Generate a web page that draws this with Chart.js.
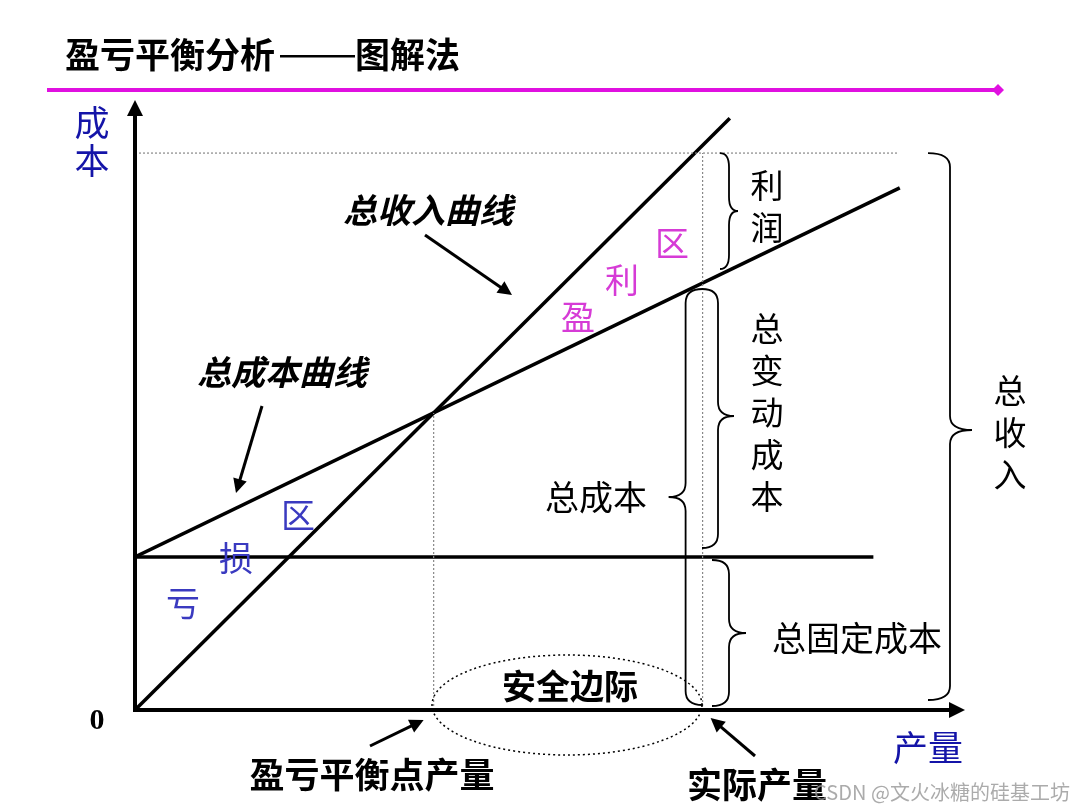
<!DOCTYPE html>
<html>
<head>
<meta charset="utf-8">
<script src="https://cdn.jsdelivr.net/npm/chart.js@4"></script>
<style>
  body { margin: 0; background: #fff; }
  #wrap { width: 1080px; height: 810px; position: relative; }
</style>
</head>
<body>
<div id="wrap"><canvas id="c"></canvas></div>
<script>
// quantity (x) and money (y), both on a 0..100 scale
const revenueX = [0, 72.1];
const revenueY = [0, 97.0];
const costX = [0, 92.7];
const costY = [25.1, 85.6];
const fixedX = [0, 89.5];
const fixedY = [25.1, 25.1];
const topGuideX = [0, 92.4];
const topGuideY = [91.3, 91.3];
const breakEvenQ = 36.2;
const breakEvenV = 48.7;
const actualQ = 68.8;
const actualRevenue = 91.3;

const zip = (xs, ys) => xs.map((x, i) => ({x: x, y: ys[i]}));

const CJK = '"Noto Sans CJK SC", "Noto Sans", sans-serif';
const BLUE = '#1414a8';
const PINK = '#d63bd6';
const LOSS = '#3a3ac0';

function arrow(ctx, x1, y1, x2, y2, w, head) {
    const a = Math.atan2(y2 - y1, x2 - x1);
    ctx.save();
    ctx.strokeStyle = '#000';
    ctx.fillStyle = '#000';
    ctx.lineWidth = w;
    ctx.beginPath();
    ctx.moveTo(x1, y1);
    ctx.lineTo(x2 - Math.cos(a) * head * 0.8, y2 - Math.sin(a) * head * 0.8);
    ctx.stroke();
    ctx.beginPath();
    ctx.moveTo(x2, y2);
    ctx.lineTo(x2 - head * Math.cos(a) + head * 0.5 * Math.sin(a),
               y2 - head * Math.sin(a) - head * 0.5 * Math.cos(a));
    ctx.lineTo(x2 - head * Math.cos(a) - head * 0.5 * Math.sin(a),
               y2 - head * Math.sin(a) + head * 0.5 * Math.cos(a));
    ctx.closePath();
    ctx.fill();
    ctx.restore();
}

// vertical curly brace; dir 1 = tip to the right, -1 = tip to the left
function brace(ctx, x, y1, y2, tipY, depth, dir) {
    const d = depth * dir;
    const h = d / 2;
    const r = Math.min(14, (y2 - y1) / 6);
    ctx.save();
    ctx.strokeStyle = '#000';
    ctx.lineWidth = 1.8;
    ctx.beginPath();
    ctx.moveTo(x, y1);
    ctx.quadraticCurveTo(x + h, y1, x + h, y1 + r);
    ctx.lineTo(x + h, tipY - r);
    ctx.quadraticCurveTo(x + h, tipY, x + d, tipY);
    ctx.quadraticCurveTo(x + h, tipY, x + h, tipY + r);
    ctx.lineTo(x + h, y2 - r);
    ctx.quadraticCurveTo(x + h, y2, x, y2);
    ctx.stroke();
    ctx.restore();
}

function text(ctx, s, x, y, font, color, align) {
    ctx.font = font;
    ctx.fillStyle = color || '#000';
    ctx.textAlign = align || 'center';
    ctx.textBaseline = 'middle';
    ctx.fillText(s, x, y);
}

function vtext(ctx, s, x, y, step, font, color) {
    [...s].forEach((ch, i) => text(ctx, ch, x, y + i * step, font, color));
}

const decor = {
    id: 'decor',
    afterDatasetsDraw(chart) {
        const ctx = chart.ctx;
        const xs = chart.scales.x, ys = chart.scales.y;
        const ox = xs.getPixelForValue(0), oy = ys.getPixelForValue(0);
        const ax = xs.getPixelForValue(actualQ);

        // header
        text(ctx, '盈亏平衡分析', 65, 55, 'bold 35px ' + CJK, '#000', 'left');
        text(ctx, '图解法', 355, 55, 'bold 35px ' + CJK, '#000', 'left');
        ctx.save();
        ctx.fillStyle = '#000';
        ctx.fillRect(280, 55, 75, 2.5);
        ctx.strokeStyle = '#e010e0';
        ctx.fillStyle = '#e010e0';
        ctx.lineWidth = 4;
        ctx.beginPath();
        ctx.moveTo(47, 90);
        ctx.lineTo(998, 90);
        ctx.stroke();
        ctx.beginPath();
        ctx.moveTo(1004, 90); ctx.lineTo(998, 84); ctx.lineTo(992, 90); ctx.lineTo(998, 96);
        ctx.closePath();
        ctx.fill();
        ctx.restore();

        // axes
        arrow(ctx, ox, oy + 2, ox, 100, 4, 16);
        arrow(ctx, ox - 2, oy, 965, oy, 4, 16);
        text(ctx, '0', 97, 721, 'bold 30px "Liberation Serif", serif');
        vtext(ctx, '成本', 92, 123, 38, '35px ' + CJK, BLUE);
        text(ctx, '产量', 928, 748, '35px ' + CJK, BLUE);

        // curve labels
        text(ctx, '总收入曲线', 428, 210, 'italic bold 34px ' + CJK);
        arrow(ctx, 425, 235, 512, 295, 3, 14);
        text(ctx, '总成本曲线', 282, 372, 'italic bold 34px ' + CJK);
        arrow(ctx, 262, 406, 236, 493, 3, 14);

        // regions
        text(ctx, '盈', 578, 317, '34px ' + CJK, PINK);
        text(ctx, '利', 622, 280, '34px ' + CJK, PINK);
        text(ctx, '区', 672, 243, '34px ' + CJK, PINK);
        text(ctx, '亏', 183, 603, '34px ' + CJK, LOSS);
        text(ctx, '损', 236, 558, '34px ' + CJK, LOSS);
        text(ctx, '区', 298, 515, '34px ' + CJK, LOSS);

        // braces and their labels
        const topY = ys.getPixelForValue(actualRevenue);
        brace(ctx, 720, topY, 269, 211, 18, 1);
        vtext(ctx, '利润', 767, 185, 42, '33px ' + CJK);
        brace(ctx, 702, 289, 548, 416, 32, 1);
        vtext(ctx, '总变动成本', 767, 328, 42, '33px ' + CJK);
        brace(ctx, ax, 289, 705, 497, 34, -1);
        text(ctx, '总成本', 596, 497, '34px ' + CJK);
        brace(ctx, 712, 560, 706, 633, 34, 1);
        text(ctx, '总固定成本', 857, 638, '34px ' + CJK);
        brace(ctx, 928, topY, 700, 430, 44, 1);
        vtext(ctx, '总收入', 1010, 390, 42, '33px ' + CJK);

        // safety margin
        ctx.save();
        ctx.strokeStyle = '#000';
        ctx.lineWidth = 1.5;
        ctx.setLineDash([2, 3]);
        ctx.beginPath();
        ctx.ellipse(567, 705, 135, 50, 0, 0, Math.PI * 2);
        ctx.stroke();
        ctx.restore();
        text(ctx, '安全边际', 570, 686, 'bold 34px ' + CJK);

        text(ctx, '盈亏平衡点产量', 372, 775, 'bold 35px ' + CJK);
        arrow(ctx, 370, 746, xs.getPixelForValue(breakEvenQ) - 10, 720, 3, 14);
        text(ctx, '实际产量', 757, 785, 'bold 35px ' + CJK);
        arrow(ctx, 755, 756, ax + 8, 718, 3, 14);

        text(ctx, 'CSDN @文火冰糖的硅基工坊', 942, 792, '20px ' + CJK, 'rgba(150,150,150,0.8)');
    }
};

const lineDs = (data, extra) => Object.assign({
    data: data,
    showLine: true,
    borderColor: '#000',
    borderWidth: 3.5,
    pointRadius: 0,
    fill: false,
}, extra || {});

const dotted = {borderColor: '#888', borderWidth: 1.2, borderDash: [2, 2]};

new Chart(document.getElementById('c'), {
    type: 'scatter',
    data: {
        datasets: [
            lineDs(zip(topGuideX, topGuideY), dotted),
            lineDs(zip([breakEvenQ, breakEvenQ], [0, breakEvenV]), dotted),
            lineDs(zip([actualQ, actualQ], [0, actualRevenue]), dotted),
            lineDs(zip(revenueX, revenueY)),
            lineDs(zip(costX, costY)),
            lineDs(zip(fixedX, fixedY)),
        ],
    },
    options: {
        responsive: true,
        maintainAspectRatio: false,
        animation: false,
        layout: {padding: {left: 135, right: 120, top: 100, bottom: 100}},
        scales: {
            x: {type: 'linear', min: 0, max: 100, display: false},
            y: {type: 'linear', min: 0, max: 100, display: false},
        },
        plugins: {
            legend: {display: false},
            tooltip: {enabled: false},
        },
    },
    plugins: [decor],
});
</script>
</body>
</html>
